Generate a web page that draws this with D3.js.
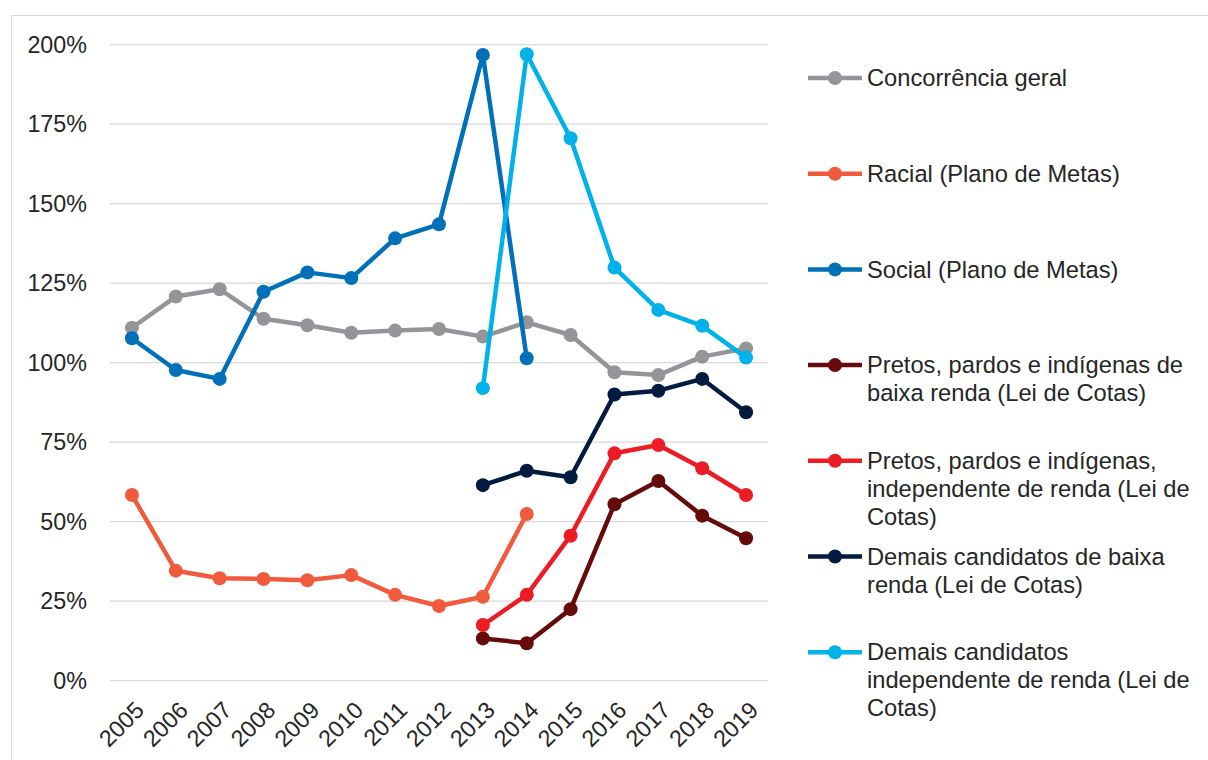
<!DOCTYPE html>
<html>
<head>
<meta charset="utf-8">
<script src="https://cdn.jsdelivr.net/npm/d3@7"></script>
<style>
  body { margin: 0; background: #fff; }
  text { font-family: "Liberation Sans", Arial, sans-serif; fill: #262626; }
</style>
</head>
<body>
<div class="container"></div>
<script>
const years = ["2005","2006","2007","2008","2009","2010","2011","2012","2013","2014","2015","2016","2017","2018","2019"]
const yTicks = [0, 25, 50, 75, 100, 125, 150, 175, 200]

// values in %, null = no data
const concorrenciaGeral = [111.0, 120.8, 123.1, 113.8, 111.8, 109.4, 110.1, 110.6, 108.2, 112.7, 108.7, 97.0, 96.1, 101.9, 104.5]
const racialMetas = [58.4, 34.6, 32.2, 32.0, 31.6, 33.2, 27.0, 23.5, 26.4, 52.4, null, null, null, null, null]
const socialMetas = [107.7, 97.7, 94.9, 122.3, 128.4, 126.6, 139.1, 143.5, 196.8, 101.4, null, null, null, null, null]
const ppiBaixaRenda = [null, null, null, null, null, null, null, null, 13.3, 11.8, 22.5, 55.5, 62.8, 51.9, 44.8]
const ppiIndependente = [null, null, null, null, null, null, null, null, 17.5, 27.0, 45.6, 71.5, 74.1, 66.8, 58.4]
const demaisBaixaRenda = [null, null, null, null, null, null, null, null, 61.5, 66.0, 64.0, 90.0, 91.2, 94.9, 84.4]
const demaisIndependente = [null, null, null, null, null, null, null, null, 92.0, 197.0, 170.6, 129.9, 116.6, 111.6, 101.6]

const seriesNames = [
    ["Concorrência geral"],
    ["Racial (Plano de Metas)"],
    ["Social (Plano de Metas)"],
    ["Pretos, pardos e indígenas de", "baixa renda (Lei de Cotas)"],
    ["Pretos, pardos e indígenas,", "independente de renda (Lei de", "Cotas)"],
    ["Demais candidatos de baixa", "renda (Lei de Cotas)"],
    ["Demais candidatos", "independente de renda (Lei de", "Cotas)"]
]
const seriesColors = ["#939598", "#f15a3d", "#0071b9", "#650b0c", "#ed1c24", "#021b3f", "#00b2ea"]
const seriesValues = [concorrenciaGeral, racialMetas, socialMetas, ppiBaixaRenda, ppiIndependente, demaisBaixaRenda, demaisIndependente]

const series = seriesNames.map((name, i) => ({
    name: name,
    color: seriesColors[i],
    values: seriesValues[i]
}))

const width = 1208, height = 760
const plotLeft = 110, plotRight = 768, plotTop = 44.7, plotBottom = 680.7
const axisFont = 23.3
const legendFont = 23.7

const svg = d3.select(".container")
              .append("svg")
              .attr("width", width)
              .attr("height", height)

// outer frame
svg.append("rect")
   .attr("x", 11.5).attr("y", 15.5)
   .attr("width", 1220).attr("height", 800)
   .attr("fill", "none")
   .attr("stroke", "#d9d9d9")
   .attr("stroke-width", 1)

const x = d3.scalePoint()
            .domain(years)
            .range([plotLeft, plotRight])
            .padding(0.5)

const y = d3.scaleLinear()
            .domain([0, 200])
            .range([plotBottom, plotTop])

// gridlines
svg.append("g")
   .selectAll("line")
   .data(yTicks)
   .enter()
   .append("line")
   .attr("x1", plotLeft)
   .attr("x2", plotRight)
   .attr("y1", d => y(d))
   .attr("y2", d => y(d))
   .attr("stroke", "#d9d9d9")
   .attr("stroke-width", 1.3)

// y axis labels
const yAxis = d3.axisLeft(y)
                .tickValues(yTicks)
                .tickFormat(d => d + "%")
                .tickSize(0)
                .tickPadding(0)
svg.append("g")
   .attr("transform", "translate(87,0)")
   .call(yAxis)
   .call(g => g.select(".domain").remove())
   .selectAll("text")
   .attr("font-size", axisFont)
   .attr("font-family", "Liberation Sans, Arial, sans-serif")
   .attr("fill", "#262626")

// x axis labels
const xAxis = d3.axisBottom(x).tickSize(0).tickPadding(0)
svg.append("g")
   .attr("transform", "translate(0," + plotBottom + ")")
   .call(xAxis)
   .call(g => g.select(".domain").remove())
   .selectAll("text")
   .attr("font-size", axisFont)
   .attr("font-family", "Liberation Sans, Arial, sans-serif")
   .attr("fill", "#262626")
   .attr("text-anchor", "end")
   .attr("dy", null)
   .attr("y", null)
   .attr("transform", "translate(13,31) rotate(-45)")

const line = d3.line()
               .defined(d => d.v !== null)
               .x(d => x(d.year))
               .y(d => y(d.v))

series.forEach((s) => {
    const pts = s.values.map((v, i) => ({year: years[i], v: v}))
    const g = svg.append("g")
    g.append("path")
     .datum(pts)
     .attr("d", line)
     .attr("fill", "none")
     .attr("stroke", s.color)
     .attr("stroke-width", 4.5)
     .attr("stroke-linejoin", "round")
     .attr("stroke-linecap", "round")
    g.selectAll("circle")
     .data(pts.filter(d => d.v !== null))
     .enter()
     .append("circle")
     .attr("cx", d => x(d.year))
     .attr("cy", d => y(d.v))
     .attr("r", 7)
     .attr("fill", s.color)
})

// legend
const legendTop = 78, legendStep = 95.7
const legend = svg.append("g")
series.forEach((s, i) => {
    const ly = legendTop + i * legendStep
    legend.append("line")
          .attr("x1", 808).attr("x2", 862)
          .attr("y1", ly).attr("y2", ly)
          .attr("stroke", s.color)
          .attr("stroke-width", 4.5)
    legend.append("circle")
          .attr("cx", 835).attr("cy", ly)
          .attr("r", 7)
          .attr("fill", s.color)
    const t = legend.append("text")
                    .attr("x", 867)
                    .attr("y", ly)
                    .attr("font-size", legendFont)
    s.name.forEach((ln, j) => {
        t.append("tspan")
         .attr("x", 867)
         .attr("y", ly + j * 28)
         .attr("dy", "0.35em")
         .text(ln)
    })
})
</script>
</body>
</html>
